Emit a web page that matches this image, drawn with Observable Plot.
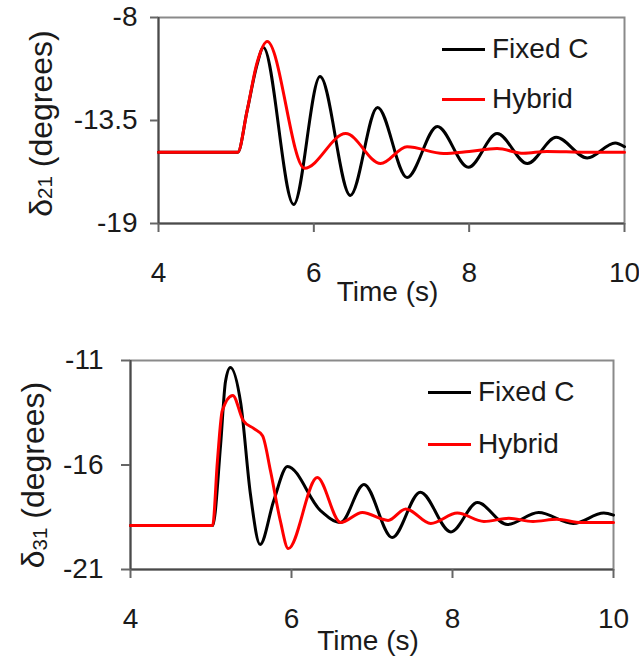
<!DOCTYPE html>
<html>
<head>
<meta charset="utf-8">
<script src="https://cdn.jsdelivr.net/npm/d3@7"></script>
<script src="https://cdn.jsdelivr.net/npm/@observablehq/plot@0.6"></script>
<style>
  html, body { margin: 0; padding: 0; background: #ffffff; }
  #wrap { position: relative; width: 639px; height: 660px; overflow: hidden;
          font-family: "Liberation Sans", Arial, sans-serif; color: #1a1a1a; }
  .panel { position: absolute; left: 0; }
  .legend-item { position: absolute; height: 40px; display: flex; align-items: center;
                 font-size: 28px; line-height: 1; white-space: nowrap; }
  .legend-item .swatch { display: inline-block; height: 3px; margin-right: 7px; }
</style>
</head>
<body>
<div id="wrap"></div>
<script>
// ---------- data ----------
const xTicks = [4, 6, 8, 10];
const xDomain = [4, 10];
const seriesNames = ["Fixed C", "Hybrid"];
const seriesColors = ["#000000", "#ff0000"];
const xLabel = "Time (s)";

// top panel: delta 21
const topYDomain = [-19, -8];
const topYTicks = [-19, -13.5, -8];
const topYLabel = ["δ", "21", " (degrees)"];
const topFixedT = [4.0, 4.5, 5.02, 5.14, 5.27, 5.35, 5.74, 6.08, 6.47, 6.82, 7.2, 7.59, 7.99, 8.36, 8.75, 9.12, 9.52, 9.88, 10.0];
const topFixedV = [-15.2, -15.2, -15.2, -13.0, -10.5, -9.6, -17.98, -11.15, -17.5, -12.8, -16.54, -13.82, -16.0, -14.2, -15.8, -14.4, -15.5, -14.7, -14.9];
const topHybridT = [4.0, 4.5, 5.02, 5.14, 5.27, 5.4, 5.88, 6.41, 6.86, 7.2, 7.67, 8.0, 8.36, 8.7, 9.0, 9.5, 10.0];
const topHybridV = [-15.2, -15.2, -15.2, -13.0, -10.4, -9.28, -16.05, -14.2, -15.8, -14.9, -15.26, -15.15, -15.0, -15.25, -15.15, -15.2, -15.2];

// bottom panel: delta 31
const botYDomain = [-21, -11];
const botYTicks = [-21, -16, -11];
const botYLabel = ["δ", "31", " (degrees)"];
const botFixedT = [4.0, 4.5, 5.02, 5.12, 5.18, 5.24, 5.37, 5.49, 5.61, 5.78, 5.95, 6.36, 6.61, 6.9, 7.25, 7.6, 7.98, 8.31, 8.68, 9.07, 9.5, 9.88, 10.0];
const botFixedV = [-18.9, -18.9, -18.9, -15.0, -12.0, -11.33, -13.06, -17.4, -19.8, -17.7, -16.07, -18.18, -18.75, -16.93, -19.47, -17.3, -19.2, -17.8, -18.85, -18.27, -18.8, -18.3, -18.4];
const botHybridT = [4.0, 4.5, 5.02, 5.08, 5.14, 5.27, 5.4, 5.53, 5.64, 5.74, 5.86, 5.96, 6.32, 6.61, 6.88, 7.2, 7.42, 7.73, 8.06, 8.39, 8.7, 9.0, 9.3, 9.6, 10.0];
const botHybridV = [-18.9, -18.9, -18.9, -15.8, -13.4, -12.67, -13.87, -14.25, -14.6, -16.3, -18.65, -20.0, -16.6, -18.75, -18.27, -18.65, -18.1, -18.8, -18.3, -18.7, -18.55, -18.7, -18.6, -18.75, -18.75];

// ---------- helpers ----------
const zip = (t, v) => t.map((d, i) => ({t: d, v: v[i]}));
const fmt = d => String(d);
const FONT = "Liberation Sans, Arial, sans-serif";

function panel(cfg) {
  const fixed = zip(cfg.fixedT, cfg.fixedV);
  const hybrid = zip(cfg.hybridT, cfg.hybridV);
  const chart = Plot.plot({
    width: 639,
    height: cfg.height,
    marginTop: cfg.mt, marginBottom: cfg.mb, marginLeft: cfg.ml, marginRight: cfg.mr,
    x: {domain: xDomain},
    y: {domain: cfg.yDomain},
    style: {fontFamily: FONT, fontSize: "28px", color: "#1a1a1a", background: "transparent", overflow: "visible"},
    marks: [
      Plot.frame({stroke: "#8a8a8a", strokeWidth: 2}),
      Plot.ruleX([xDomain[0]], {stroke: "#4a4a4a", strokeWidth: 2}),
      Plot.ruleY([cfg.yDomain[0]], {stroke: "#4a4a4a", strokeWidth: 2}),
      Plot.axisX({ticks: xTicks, tickSize: 9, tickPadding: 30, tickFormat: fmt, label: null,
                  stroke: "#666", strokeWidth: 2, fill: "#1a1a1a"}),
      Plot.axisY({ticks: cfg.yTicks, tickSize: cfg.ytickSize, tickPadding: cfg.ytickPad, tickFormat: fmt, label: null,
                  stroke: "#666", strokeWidth: 2, fill: "#1a1a1a"}),
      Plot.text([xLabel], {frameAnchor: "bottom", dx: cfg.xlabDx, dy: cfg.xlabDy, textAnchor: "middle", lineAnchor: "middle", fill: "#1a1a1a"}),
      Plot.text([cfg.yLabel.join("")], {frameAnchor: "left", dx: cfg.ylabDx, dy: cfg.ylabDy, rotate: -90,
                  textAnchor: "middle", lineAnchor: "middle", fontSize: 32, fill: "#1a1a1a"}),
      Plot.line(fixed, {x: "t", y: "v", stroke: seriesColors[0], strokeWidth: 3, curve: "monotone-x"}),
      Plot.line(hybrid, {x: "t", y: "v", stroke: seriesColors[1], strokeWidth: 3, curve: "monotone-x"})
    ]
  });
  // rebuild y label with smaller digits
  d3.select(chart).selectAll("text").filter(function () { return this.textContent === cfg.yLabel.join(""); })
    .each(function () {
      const t = d3.select(this);
      t.text(null);
      t.append("tspan").text(cfg.yLabel[0]);
      t.append("tspan").attr("font-size", "0.64em").attr("dy", cfg.subShift + "em").text(cfg.yLabel[1]);
      t.append("tspan").attr("dy", (-cfg.subShift * 0.64) + "em").text(cfg.yLabel[2]);
    });
  const div = document.createElement("div");
  div.className = "panel";
  div.style.top = cfg.top + "px";
  div.appendChild(chart);
  return div;
}

function legend(wrap, items) {
  items.forEach(it => {
    const d = document.createElement("div");
    d.className = "legend-item";
    d.style.left = it.left + "px";
    d.style.top = (it.y - 20) + "px";
    const sw = document.createElement("span");
    sw.className = "swatch";
    sw.style.width = it.w + "px";
    sw.style.background = it.color;
    const tx = document.createElement("span");
    tx.textContent = it.name;
    d.appendChild(sw); d.appendChild(tx);
    wrap.appendChild(d);
  });
}

const wrap = document.getElementById("wrap");
wrap.appendChild(panel({
  top: 0, height: 320, mt: 17, mb: 97, ml: 158, mr: 15,
  yDomain: topYDomain, yTicks: topYTicks, ytickSize: 8, ytickPad: 13,
  fixedT: topFixedT, fixedV: topFixedV, hybridT: topHybridT, hybridV: topHybridV,
  xlabDx: -4, xlabDy: 69, ylabDx: -117, ylabDy: 3, yLabel: topYLabel, subShift: 0.0
}));
wrap.appendChild(panel({
  top: 330, height: 330, mt: 30, mb: 91, ml: 130, mr: 26,
  yDomain: botYDomain, yTicks: botYTicks, ytickSize: 9, ytickPad: 18,
  fixedT: botFixedT, fixedV: botFixedV, hybridT: botHybridT, hybridV: botHybridV,
  xlabDx: -4, xlabDy: 72, ylabDx: -97, ylabDy: 10, yLabel: botYLabel, subShift: 0.15
}));
legend(wrap, [
  {name: seriesNames[0], color: seriesColors[0], left: 442, w: 43, y: 49},
  {name: seriesNames[1], color: seriesColors[1], left: 442, w: 43, y: 99},
  {name: seriesNames[0], color: seriesColors[0], left: 428, w: 43, y: 392},
  {name: seriesNames[1], color: seriesColors[1], left: 428, w: 43, y: 444}
]);
</script>
</body>
</html>
